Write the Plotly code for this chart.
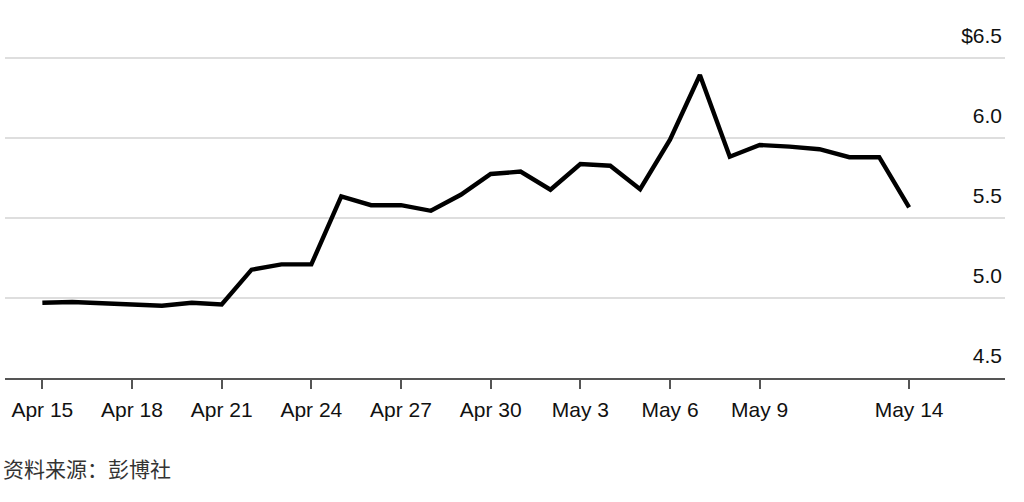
import plotly.graph_objects as go

dates = ["2024-04-15", "2024-04-16", "2024-04-17", "2024-04-18", "2024-04-19",
         "2024-04-20", "2024-04-21", "2024-04-22", "2024-04-23", "2024-04-24",
         "2024-04-25", "2024-04-26", "2024-04-27", "2024-04-28", "2024-04-29",
         "2024-04-30", "2024-05-01", "2024-05-02", "2024-05-03", "2024-05-04",
         "2024-05-05", "2024-05-06", "2024-05-07", "2024-05-08", "2024-05-09",
         "2024-05-10", "2024-05-11", "2024-05-12", "2024-05-13", "2024-05-14"]
prices = [4.97, 4.975, 4.967, 4.96, 4.952, 4.97, 4.96, 5.177, 5.21, 5.21,
          5.635, 5.58, 5.58, 5.545, 5.645, 5.775, 5.79, 5.677, 5.837, 5.827,
          5.68, 5.99, 6.394, 5.883, 5.956, 5.946, 5.93, 5.88, 5.88, 5.567]

x_tick_vals = ["2024-04-15", "2024-04-18", "2024-04-21", "2024-04-24", "2024-04-27",
               "2024-04-30", "2024-05-03", "2024-05-06", "2024-05-09", "2024-05-14"]
x_tick_text = ["Apr 15", "Apr 18", "Apr 21", "Apr 24", "Apr 27",
               "Apr 30", "May 3", "May 6", "May 9", "May 14"]
y_tick_vals = [4.5, 5.0, 5.5, 6.0, 6.5]
y_tick_text = ["4.5", "5.0", "5.5", "6.0", "$6.5"]
source_text = "资料来源：彭博社"

fig = go.Figure()
fig.add_trace(go.Scatter(
    x=dates, y=prices, mode="lines",
    line=dict(color="#000000", width=4.4, shape="linear"),
    hoverinfo="skip", showlegend=False,
))

fig.update_layout(
    width=1024, height=502,
    margin=dict(l=5, r=19, t=18, b=124, autoexpand=False),
    paper_bgcolor="white", plot_bgcolor="white",
    font=dict(family="Liberation Sans, Arial, sans-serif", size=21, color="#111111"),
    xaxis=dict(
        type="date",
        range=["2024-04-13 18:00", "2024-05-17 05:00"],
        tickvals=x_tick_vals, ticktext=x_tick_text,
        showgrid=False, zeroline=False,
        showline=True, linecolor="#555555", linewidth=2,
        ticks="outside", ticklen=9, tickwidth=1.5, tickcolor="#555555",
        ticklabelstandoff=3,
        tickfont=dict(size=21, color="#111111"),
        automargin=False,
        fixedrange=True,
    ),
    yaxis=dict(
        range=[4.5, 6.75],
        side="right",
        tickvals=y_tick_vals, ticktext=y_tick_text,
        ticklabelposition="inside",
        ticklabelshift=-22,
        ticklabelstandoff=0,
        ticks="",
        showgrid=True, gridcolor="#dedede", gridwidth=2,
        zeroline=False, showline=False,
        tickfont=dict(size=21, color="#111111"),
        automargin=False,
        fixedrange=True,
    ),
    annotations=[dict(
        text=source_text, xref="paper", yref="paper",
        x=0, y=-0.25, xanchor="left", yanchor="middle", xshift=-4,
        showarrow=False,
        font=dict(family="Noto Sans CJK SC", size=21, color="#333333"),
    )],
)

fig.write_html(
    "out.html",
    config={"displayModeBar": False},
    post_script="document.body.style.margin='0';document.body.style.overflow='hidden';",
)
